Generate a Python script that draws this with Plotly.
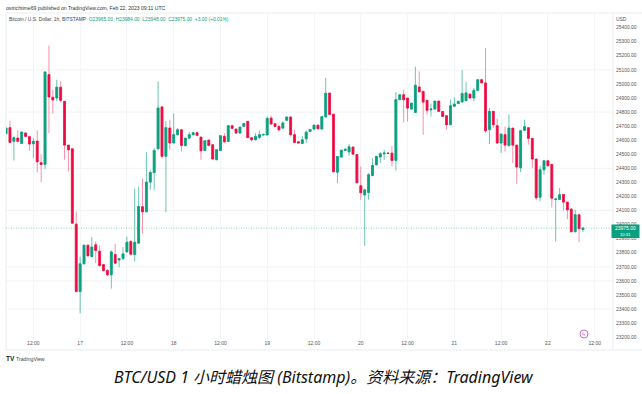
import pandas as pd
import plotly.graph_objects as go

start = "2023-02-16 05:00"
opens = [24646,24689,24592,24615,24577,24651,24625,24575,24594,24440,24428,25066,24905,24900,24976,24876,24565,24539,24003,23524,23721,23854,23773,23856,23811,23716,23674,23643,23787,23749,23759,23806,23880,23787,23868,24127,24091,24302,24370,24539,24836,24485,24686,24580,24639,24674,24561,24615,24639,24653,24622,24527,24601,24568,24461,24527,24627,24591,24703,24679,24651,24698,24734,24618,24603,24620,24637,24637,24757,24717,24698,24686,24741,24765,24639,24589,24577,24610,24662,24679,24707,24679,24767,24935,24785,24373,24480,24527,24517,24551,24498,24276,24211,24228,24349,24425,24480,24503,24508,24508,24456,24888,24923,24899,24821,24797,24978,24947,24883,24816,24821,24878,24804,24774,24710,24841,24860,24871,24881,24928,24900,24954,25030,25007,24675,24805,24703,24580,24639,24561,24686,24565,24404,24670,24689,24613,24466,24195,24390,24454,24428,24179,24179,24214,24160,24110,23949,24070,23965]
highs = [24686,24739,24627,24670,24658,24656,24632,24615,24670,24501,25085,25272,24959,25030,25018,24876,24565,24539,24093,23773,23854,23854,23911,23880,23852,23716,23683,23816,23863,23761,23840,23915,23892,24255,24271,24328,24516,24385,24544,25018,24842,24735,24745,24790,24686,24674,24615,24658,24658,24656,24622,24596,24601,24568,24532,24632,24651,24703,24705,24679,24693,24719,24734,24618,24651,24670,24643,24769,24776,24717,24710,24734,24765,24765,24674,24589,24631,24669,24678,24710,24710,24767,25042,24935,24785,24484,24529,24540,24574,24551,24498,24413,24250,24366,24472,24490,24515,24532,24510,24560,24942,24923,24959,24899,24864,25122,25089,24947,24883,24860,24878,24878,24804,24774,24890,24905,24876,25097,25015,24928,24971,25030,25030,25256,24829,24805,24753,24644,24698,24781,24686,24565,24675,24746,24689,24613,24466,24418,24454,24454,24428,24188,24260,24214,24160,24117,24105,24070,23984]
lows = [24646,24584,24456,24584,24577,24622,24525,24473,24371,24302,24395,24651,24788,24876,24869,24461,24378,24010,23524,23370,23721,23773,23768,23726,23702,23666,23636,23545,23721,23697,23749,23806,23785,23738,23868,23939,24091,24247,24247,24532,24470,24088,24532,24580,24632,24520,24561,24608,24636,24630,24461,24527,24563,24461,24461,24527,24580,24591,24680,24646,24646,24698,24618,24591,24599,24608,24635,24637,24710,24693,24663,24679,24741,24627,24580,24580,24574,24579,24660,24669,24679,24679,24757,24783,24375,24295,24480,24525,24491,24491,24297,24176,23849,24176,24342,24420,24437,24460,24504,24413,24385,24888,24726,24733,24821,24797,24940,24638,24781,24769,24821,24804,24769,24674,24710,24841,24860,24871,24881,24895,24876,24954,25007,24651,24573,24686,24575,24509,24520,24561,24437,24290,24373,24670,24568,24402,24176,24165,24354,24414,24122,23880,24176,24100,24039,23949,23949,23875,23948]
closes = [24686,24584,24618,24592,24658,24627,24573,24592,24447,24428,25085,24907,24886,24976,24883,24565,24532,24010,23524,23721,23854,23778,23840,23816,23709,23674,23643,23806,23726,23757,23792,23875,23790,23875,24129,24091,24302,24370,24527,24829,24485,24689,24580,24639,24674,24563,24615,24639,24653,24634,24525,24596,24563,24466,24532,24632,24589,24703,24684,24651,24693,24719,24618,24603,24627,24639,24641,24755,24715,24698,24674,24722,24765,24639,24584,24580,24603,24657,24676,24707,24681,24767,24933,24783,24375,24484,24529,24536,24553,24501,24297,24226,24247,24354,24420,24484,24503,24508,24506,24456,24888,24923,24888,24828,24864,24990,24944,24871,24812,24821,24878,24804,24769,24710,24845,24857,24876,24931,24936,24900,24954,25030,25007,24667,24805,24710,24580,24644,24565,24686,24565,24409,24667,24696,24613,24466,24191,24390,24454,24418,24188,24182,24212,24160,24105,23949,24070,23972,23975]
price_ticks = list(range(23200, 25401, 100))
grid_prices = [25100, 24800, 24400, 24100, 23700, 23600, 23400]
time_ticks = ["2023-02-16 12:00","2023-02-17 00:00","2023-02-17 12:00","2023-02-18 00:00","2023-02-18 12:00","2023-02-19 00:00","2023-02-19 12:00","2023-02-20 00:00","2023-02-20 12:00","2023-02-21 00:00","2023-02-21 12:00","2023-02-22 00:00","2023-02-22 12:00"]
time_labels = ["12:00","17","12:00","18","12:00","19","12:00","20","12:00","21","12:00","22","12:00"]
last_price = 23975
header_left = "Bitcoin / U.S. Dollar, 1h, BITSTAMP"
header_ohlc = "O23965.00  H23984.00  L23948.00  C23975.00  +3.00 (+0.01%)"
published = "ostrichtime69 published on TradingView.com, Feb 22, 2023 09:11 UTC"
caption = "BTC/USD 1 小时蜡烛图 (Bitstamp)。资料来源：TradingView"

GREEN, RED = "#0a9f7f", "#ee0a42"
W, H = 642, 394
L, R, T, B = 6, 613, 13, 339
times = pd.date_range(start, periods=len(opens), freq="h")
px = lambda x: (x - L) / (R - L)
py = lambda y: (B - y) / (B - T)

body_hi = [max(o, c) for o, c in zip(opens, closes)]
body_lo = [min(o, c) for o, c in zip(opens, closes)]

fig = go.Figure()
fig.add_trace(go.Candlestick(x=times, open=opens, high=highs, low=lows, close=closes,
    whiskerwidth=0, showlegend=False, hoverinfo="skip",
    increasing=dict(line=dict(color="rgba(10,159,127,0.6)", width=1), fillcolor="rgba(0,0,0,0)"),
    decreasing=dict(line=dict(color="rgba(238,10,66,0.45)", width=1), fillcolor="rgba(0,0,0,0)")))
fig.add_trace(go.Candlestick(x=times, open=opens, high=body_hi, low=body_lo, close=closes,
    whiskerwidth=0, showlegend=False, hoverinfo="skip",
    increasing=dict(line=dict(color=GREEN, width=0.6), fillcolor=GREEN),
    decreasing=dict(line=dict(color=RED, width=0.6), fillcolor=RED)))

shapes = []
for g in grid_prices:
    shapes.append(dict(type="line", xref="paper", x0=0, x1=1, yref="y", y0=g, y1=g,
                       line=dict(color="#f0f3f5", width=1), layer="below"))
shapes.append(dict(type="line", xref="paper", x0=0, x1=1, yref="y", y0=last_price, y1=last_price,
                   line=dict(color="rgba(10,159,127,0.42)", width=1, dash="1px,1.5px"), layer="above"))
frame = "#e9ecef"
for x0, y0, x1, y1 in [(6, 13, 642, 13), (6, 13, 6, 350), (6, 350, 642, 350), (613, 13, 613, 350)]:
    shapes.append(dict(type="line", xref="paper", yref="paper", x0=px(x0), x1=px(x1), y0=py(y0), y1=py(y1),
                       line=dict(color=frame, width=1), layer="below"))
shapes.append(dict(type="rect", xref="paper", yref="paper", x0=px(611.5), x1=px(639.5), y0=py(238), y1=py(224.5),
                   fillcolor=GREEN, line=dict(width=0), layer="above"))
shapes.append(dict(type="circle", xref="paper", yref="paper", x0=px(580), x1=px(588), y0=py(338), y1=py(330),
                   fillcolor="white", line=dict(color="#c46fd0", width=1), layer="above"))

def note(x, y, text, size, color="#444", anchor="left", font="Liberation Sans", **kw):
    return dict(xref="paper", yref="paper", x=px(x), y=py(y), text=text, showarrow=False,
                xanchor=anchor, yanchor="middle", font=dict(size=size, color=color, family=font),
                borderpad=0, borderwidth=0, **kw)

annotations = [
    note(6, 8, published, 5.1, "#333"),
    note(9, 19, f'{header_left}  <span style="color:{GREEN}">{header_ohlc}</span>', 4.9, "#444"),
    note(616, 19, "USD", 4.9, "#555"),
    note(625.5, 228, "23975.00", 5, "white", "center"),
    note(625.5, 234.5, "10:31", 4.2, "white", "center"),
    note(584, 334, "ϟ", 6, "#c46fd0", "center"),
    note(6, 358.5, "<b>TV</b>", 6.5, "#222"),
    note(16, 358.5, "TradingView", 5.2, "#444"),
    note(323.5, 377, f"<i>{caption}</i>", 16, "#111", "center", "Noto Sans, Noto Sans CJK SC"),
]

fig.update_layout(
    width=W, height=H, autosize=False, showlegend=False, hovermode=False,
    paper_bgcolor="white", plot_bgcolor="white",
    margin=dict(l=L, r=W - R, t=T, b=H - B, pad=0),
    xaxis=dict(type="date", rangeslider=dict(visible=False),
               range=[times[0] - pd.Timedelta(minutes=1), times[0] + pd.Timedelta(hours=155.7)],
               tickvals=time_ticks, ticktext=time_labels, ticklen=0, tickangle=0,
               tickfont=dict(size=5, color="#555", family="Liberation Sans"),
               showgrid=True, gridcolor="#f3f5f7", gridwidth=1, zeroline=False, showline=False),
    yaxis=dict(side="right", range=[23187, 25504], tickvals=price_ticks, tickformat=".2f",
               ticklen=0, ticklabelstandoff=2,
               tickfont=dict(size=4.9, color="#555", family="Liberation Sans"),
               showgrid=False, zeroline=False, showline=False),
    shapes=shapes, annotations=annotations,
)
fig.write_html("out.html", config={"displayModeBar": False},
               post_script="document.body.style.margin='0';document.body.style.overflow='hidden';")
